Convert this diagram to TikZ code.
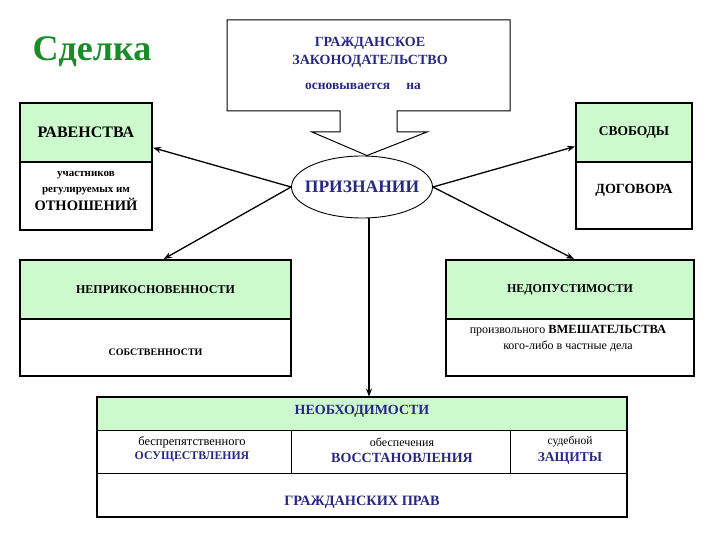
\documentclass[tikz,border=0pt]{standalone}
\usepackage{fontspec}
\setmainfont{Liberation Serif}
\usetikzlibrary{shapes.geometric,arrows.meta,calc}
\definecolor{navy}{RGB}{40,40,130}
\definecolor{lgreen}{RGB}{204,250,204}
\definecolor{tgreen}{RGB}{25,140,40}
\newcommand\myfs[2]{\fontsize{#1}{#2}\selectfont}
\begin{document}
\begin{tikzpicture}[x=1pt,y=-1pt,
  box/.style={draw=black,line width=2pt,rectangle,inner sep=0pt,align=center},
  gbox/.style={box,fill=lgreen},
  cell/.style={draw=black,line width=0.9pt,rectangle,inner sep=0pt,align=center},
  txt/.style={inner sep=0pt,align=center},
  arr/.style={line width=1.3pt,-{Stealth[length=8pt,width=6pt]}}
]
\useasboundingbox[fill=white] (0,0) rectangle (720,540);

% title
\node[txt,text=tgreen,font=\myfs{36}{40}\bfseries] (title) at (92,52) {Сделка};

% ellipse
\node[draw=black,line width=0.9pt,ellipse,minimum width=141pt,minimum height=62pt,inner xsep=-10pt,inner ysep=0pt,
      text=navy,font=\myfs{17.5}{20}\bfseries] (pr) at (362,187) {ПРИЗНАНИИ};

% callout
\coordinate (tip) at ([xshift=5pt]pr.north);
\draw[line width=1pt,fill=white] (227,20) -- (510,20) -- (510,111) -- (397,111) -- (397,132) -- (427,132)
  -- (tip) -- (312,132) -- (340,132) -- (340,111) -- (227,111) -- cycle;
\node[txt,text=navy,font=\myfs{14}{18}\bfseries] (law) at (370,52) {ГРАЖДАНСКОЕ\\ЗАКОНОДАТЕЛЬСТВО};
\node[txt,text=navy,font=\myfs{13.5}{15}\bfseries] (base) at (363,86) {основывается\hspace{1.2em}на};

% left upper box
\node[gbox,minimum width=132pt,minimum height=59pt,font=\myfs{16}{18}\bfseries] (ravtop) at (86,132.5) {РАВЕНСТВА};
\node[box,minimum width=132pt,minimum height=68pt] (ravbot) at (86,196) {};
\node[txt,font=\myfs{11}{16}\bfseries] (ravtxt) at (86,183) {участников\\регулируемых им};
\node[txt,font=\myfs{14.5}{16}\bfseries] (ravtxt2) at (86,204) {ОТНОШЕНИЙ};

% right upper box
\node[gbox,minimum width=116pt,minimum height=59pt,font=\myfs{13.5}{16}\bfseries] (svotop) at (634,132.5) {СВОБОДЫ};
\node[box,minimum width=116pt,minimum height=67pt] (svobot) at (634,195.5) {};
\node[txt,font=\myfs{14}{16}\bfseries] (svotxt) at (634,190) {ДОГОВОРА};

% left middle box
\node[gbox,minimum width=271pt,minimum height=59pt,font=\myfs{12}{15}\bfseries] (neptop) at (155.5,289.5) {НЕПРИКОСНОВЕННОСТИ};
\node[box,minimum width=271pt,minimum height=57pt] (nepbot) at (155.5,347.5) {};
\node[txt,font=\myfs{10}{12}\bfseries] (neptxt) at (155.5,352) {СОБСТВЕННОСТИ};

% right middle box
\node[gbox,minimum width=248pt,minimum height=59pt,font=\myfs{12}{15}\bfseries] (nedtop) at (570,289.5) {НЕДОПУСТИМОСТИ};
\node[box,minimum width=248pt,minimum height=57pt] (nedbot) at (570,347.5) {};
\node[txt,font=\myfs{12}{16}] (nedtxt) at (568,339) {произвольного {\myfs{12.5}{16}\bfseries ВМЕШАТЕЛЬСТВА}\\кого-либо в частные дела};

% bottom box
\node[cell,fill=lgreen,minimum width=530pt,minimum height=33pt] (neo) at (362,413.5) {};
\node[txt,text=navy,font=\myfs{14}{15}\bfseries] (neotxt) at (362,411) {НЕОБХОДИМОСТИ};
\node[cell,minimum width=194pt,minimum height=43pt] (c1) at (194,451.5) {};
\node[cell,minimum width=219pt,minimum height=43pt] (c2) at (400.5,451.5) {};
\node[cell,minimum width=117pt,minimum height=43pt] (c3) at (568.5,451.5) {};
\node[cell,minimum width=530pt,minimum height=44pt] (gp) at (362,495) {};
\draw[line width=2pt] (neo.north west) rectangle (gp.south east);
\node[txt,font=\myfs{12.5}{13}] (c1a) at (192,442) {беспрепятственного};
\node[txt,text=navy,font=\myfs{11.8}{13}\bfseries] (c1b) at (192,457) {ОСУЩЕСТВЛЕНИЯ};
\node[txt,font=\myfs{12}{13}] (c2a) at (402,442) {обеспечения};
\node[txt,text=navy,font=\myfs{14}{15}\bfseries] (c2b) at (402,458) {ВОССТАНОВЛЕНИЯ};
\node[txt,font=\myfs{11.5}{13}] (c3a) at (570,442) {судебной};
\node[txt,text=navy,font=\myfs{13.5}{15}\bfseries] (c3b) at (570,458) {ЗАЩИТЫ};
\node[txt,text=navy,font=\myfs{14.3}{15}\bfseries] (gptxt) at (362,502) {ГРАЖДАНСКИХ ПРАВ};

% arrows
\draw[arr] (pr.west) -- ($(ravtop.south east)!0.25!(ravtop.north east)$);
\draw[arr] (pr.west) -- ($(neptop.north west)!0.53!(neptop.north east)$);
\draw[arr] (pr.east) -- ($(svotop.south west)!0.27!(svotop.north west)$);
\draw[arr] (pr.east) -- ($(nedtop.north west)!0.516!(nedtop.north east)$);
\draw[arr] ([xshift=7pt]pr.south) -- ([xshift=7pt]pr.south |- neo.north);
\end{tikzpicture}
\end{document}
